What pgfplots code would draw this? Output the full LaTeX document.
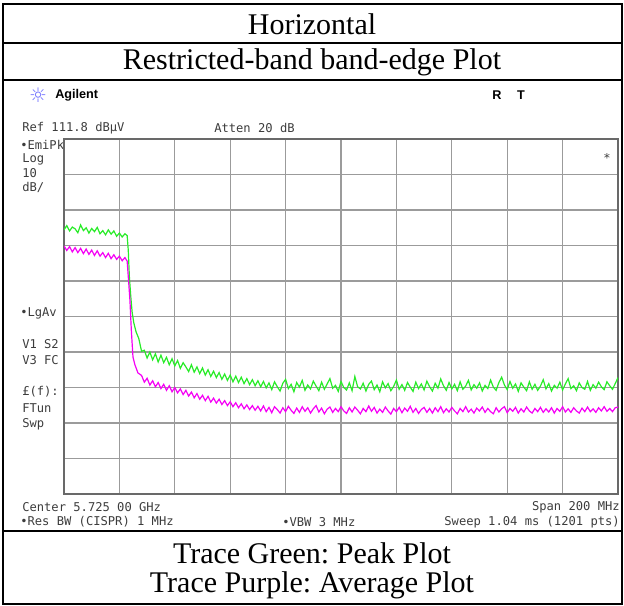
\documentclass[border=0pt]{standalone}
\usepackage{fontspec}
\setmainfont{Liberation Serif}
\newfontfamily\agmono{DejaVu Sans Mono}
\newfontfamily\agsans{Liberation Sans}
\newfontfamily\agsym{DejaVu Sans}
\usepackage{pgfplots}
\usepackage{pgfplotstable}
\pgfplotsset{compat=1.18}
\frenchspacing

\definecolor{pk}{RGB}{40,235,40}
\definecolor{av}{RGB}{245,0,245}
\definecolor{gridgray}{RGB}{155,155,155}
\definecolor{framegray}{RGB}{105,105,105}
\definecolor{scrtext}{RGB}{60,60,60}
\definecolor{agblue}{RGB}{120,120,255}

% offset from 5625 MHz, level in dBuV
\pgfplotstableread{
f dB
0 86.2
1 87.4
2 85.9
3 87.0
4 86.5
5 85.4
6 87.6
7 86.0
8 86.8
9 85.3
10 86.6
11 85.7
12 86.9
13 85.1
14 86.0
15 84.8
16 86.2
17 85.0
18 85.9
19 84.4
20 85.3
21 84.2
22 85.1
22.8 84.6
23.2 80.5
23.6 73.0
24.1 67.5
24.6 63.0
25.2 60.0
26.0 57.5
27 55.6
28 52.0
29 52.3
30 50.1
31 51.8
32 49.6
33 51.3
34 49.0
35 50.9
36 48.8
37 50.3
38 48.2
39 49.9
40 47.9
41 49.4
42 47.2
43 48.8
44 47.6
45 46.3
46 48.2
47 46.1
48 47.6
49 45.7
50 47.3
51 45.3
52 46.8
53 44.9
54 46.4
55 44.6
56 46.0
57 44.1
58 45.6
59 43.8
60 45.3
61 43.4
62 45.0
63 43.2
64 44.7
65 42.9
66 44.3
67 42.6
68 44.0
69 42.3
70 43.7
71 42.0
72 43.5
73 41.7
74 43.1
75 41.2
76 43.4
77 42.0
78 40.8
79 43.0
80 44.1
81 41.5
82 42.7
83 40.6
84 43.2
85 41.9
86 43.8
87 41.0
88 42.5
89 41.4
90 43.6
91 42.2
92 40.9
93 43.3
94 41.3
95 42.8
96 44.3
97 41.6
98 42.4
99 40.7
100 43.5
101 41.8
102 41.1
103 43.1
104 40.9
105 44.9
106 42.0
107 41.4
108 43.0
109 40.8
110 42.7
111 43.6
112 41.2
113 42.5
114 40.6
115 43.4
116 41.7
117 42.9
118 40.9
119 42.1
120 43.9
121 41.3
122 42.6
123 41.0
124 43.2
125 41.9
126 40.7
127 43.3
128 41.5
129 42.8
130 41.1
131 43.6
132 42.0
133 40.8
134 43.0
135 41.6
136 44.2
137 42.3
138 41.0
139 43.2
140 41.4
141 42.7
142 40.9
143 43.4
144 41.3
145 42.2
146 43.8
147 41.1
148 42.6
149 41.6
150 43.1
151 40.8
152 42.4
153 41.5
154 43.9
155 41.9
156 41.0
157 43.2
158 44.7
159 42.5
160 41.2
161 43.5
162 41.6
163 42.8
164 40.7
165 43.1
166 41.9
167 40.9
168 43.4
169 41.3
170 42.7
171 41.0
172 42.2
173 44.0
174 41.4
175 42.9
176 40.8
177 42.4
178 41.6
179 43.3
180 41.1
181 42.8
182 44.3
183 41.5
184 42.3
185 40.9
186 43.1
187 41.8
188 41.3
189 43.5
190 41.0
191 42.6
192 41.6
193 43.3
194 42.0
195 41.2
196 43.4
197 42.3
198 41.3
199 42.9
200 44.6
}\peaktrace

\pgfplotstableread{
f dB
0 81.7
1 80.4
2 81.5
3 80.0
4 81.2
5 79.8
6 81.0
7 79.5
8 80.8
9 79.3
10 80.5
11 79.0
12 80.3
13 78.8
14 79.8
15 78.4
16 79.6
17 78.1
18 79.2
19 77.9
20 78.8
21 77.5
22 78.4
22.8 77.4
23.3 72.0
23.8 66.4
24.3 58.0
24.9 50.4
25.6 48.2
26.7 45.9
28 45.2
29 43.3
30 44.4
31 42.5
32 43.7
33 42.0
34 43.2
35 41.5
36 42.7
37 41.0
38 42.3
39 40.6
40 41.8
41 40.3
42 41.4
43 39.8
44 41.0
45 39.4
46 40.5
47 38.9
48 40.1
49 38.5
50 39.6
51 38.1
52 39.3
53 37.7
54 38.8
55 37.4
56 38.5
57 37.0
58 38.1
59 36.7
60 37.8
61 36.4
62 37.5
63 36.1
64 37.2
65 35.8
66 36.9
67 35.6
68 36.7
69 35.4
70 36.5
71 35.2
72 36.6
73 35.0
74 36.2
75 34.7
76 36.4
77 35.6
78 34.6
79 36.1
80 35.0
81 36.5
82 35.4
83 34.5
84 36.0
85 34.8
86 36.4
87 35.1
88 36.1
89 34.6
90 35.8
91 36.7
92 34.9
93 36.0
94 34.4
95 35.7
96 36.3
97 34.8
98 35.9
99 35.0
100 36.4
101 35.2
102 34.5
103 36.1
104 34.9
105 36.3
106 35.4
107 34.4
108 35.9
109 35.0
110 36.6
111 35.1
112 36.2
113 34.6
114 35.7
115 34.8
116 36.3
117 35.2
118 34.3
119 35.9
120 35.0
121 36.2
122 34.7
123 36.0
124 35.1
125 36.5
126 34.8
127 35.9
128 34.5
129 35.6
130 36.2
131 34.8
132 35.9
133 34.6
134 36.1
135 35.0
136 36.4
137 34.7
138 35.8
139 34.9
140 36.2
141 35.2
142 34.4
143 35.9
144 35.0
145 36.4
146 34.9
147 35.7
148 34.6
149 36.0
150 35.2
151 36.3
152 34.8
153 35.9
154 35.0
155 34.4
156 36.1
157 34.9
158 35.8
159 36.4
160 34.7
161 35.9
162 35.1
163 36.2
164 34.6
165 35.8
166 34.9
167 36.3
168 35.2
169 34.6
170 35.9
171 35.0
172 36.2
173 34.8
174 35.8
175 34.9
176 36.1
177 34.6
178 35.9
179 35.1
180 36.4
181 34.9
182 35.8
183 34.8
184 36.1
185 35.2
186 34.6
187 36.0
188 35.0
189 36.3
190 35.0
191 35.8
192 34.8
193 36.1
194 35.2
195 36.4
196 35.1
197 35.9
198 35.0
199 36.1
200 36.3
}\avgtrace

\begin{document}
\begin{tikzpicture}[x=0.75pt, y=-0.75pt]
\useasboundingbox (0,0) rectangle (624,606);

% table frame
\draw[line width=1.3pt] (3,4) rectangle (622,604);
\draw[line width=1.3pt] (3,43) -- (622,43);
\draw[line width=1.3pt] (3,80) -- (622,80);
\draw[line width=1.3pt] (3,531) -- (622,531);

\begin{scope}[font=\fontsize{22.5}{27}\selectfont, inner sep=0pt]
\node at (312,24) {Horizontal};
\node at (312,62) {Restricted-band band-edge Plot};
\node at (312,553) {Trace Green: Peak Plot};
\node at (312,585) {Trace Purple: Average Plot};
\end{scope}

% analyzer header
\node[inner sep=0pt, text=agblue, font=\agsym\fontsize{15}{16}\selectfont] at (38,95) {☼};
\node[inner sep=0pt, anchor=west, font=\agsans\bfseries\fontsize{9.5}{11}\selectfont] at (55,95) {Agilent};
\node[inner sep=0pt, font=\agsans\bfseries\fontsize{9.5}{11}\selectfont] at (497,95) {R};
\node[inner sep=0pt, font=\agsans\bfseries\fontsize{9.5}{11}\selectfont] at (521,95) {T};

\begin{scope}[font=\agmono\fontsize{9.1}{11}\selectfont, text=scrtext, inner sep=0pt]
\node[anchor=west] at (22,128) {Ref 111.8 dBµV};
\node[anchor=west] at (214,128) {Atten 20 dB};
\node[anchor=west] at (20,145) {•EmiPk};
\node[anchor=west] at (22,159) {Log};
\node[anchor=west] at (22,173) {10};
\node[anchor=west] at (22,187) {dB/};
\node[anchor=west] at (20,313) {•LgAv};
\node[anchor=west] at (22,344) {V1 S2};
\node[anchor=west] at (22,360) {V3 FC};
\node[anchor=west] at (22,392) {£(f):};
\node[anchor=west] at (22,408) {FTun};
\node[anchor=west] at (22,424) {Swp};
\node[anchor=west] at (22,507) {Center 5.725 00 GHz};
\node[anchor=east] at (620,507) {Span 200 MHz};
\node[anchor=west] at (20,522) {•Res BW (CISPR) 1 MHz};
\node[anchor=west] at (282,522) {•VBW 3 MHz};
\node[anchor=east] at (620,522) {Sweep 1.04 ms (1201 pts)};
\node at (607,158) {*};
\end{scope}

\coordinate (ll) at (64,494);
\begin{axis}[
    at={(ll)}, anchor=south west,
    scale only axis,
    width=415.5pt, height=266.25pt,
    xmin=0, xmax=200,
    ymin=11.8, ymax=111.8,
    xtick={0,20,...,200},
    ytick={11.8,21.8,31.8,41.8,51.8,61.8,71.8,81.8,91.8,101.8,111.8},
    xticklabels={}, yticklabels={},
    major tick length=0pt,
    grid=major,
    grid style={gridgray, line width=0.9pt},
    axis line style={framegray, line width=1.2pt},
]
\addplot[pk, line width=0.9pt] table[x=f, y=dB] {\peaktrace};
\addplot[av, line width=0.9pt] table[x=f, y=dB] {\avgtrace};
\end{axis}
\end{tikzpicture}
\end{document}
